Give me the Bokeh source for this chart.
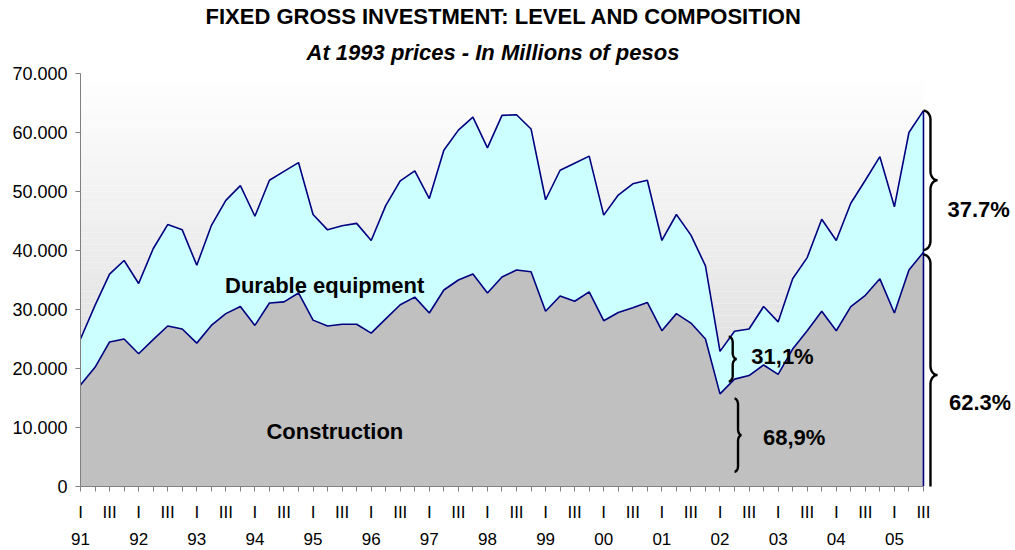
import numpy as np
from bokeh.plotting import figure
from bokeh.models import Range1d, FixedTicker, LinearAxis, Title
from bokeh.core.properties import value
from bokeh.embed import file_html
from bokeh.resources import INLINE

# ---------------- data ----------------
years = ["91", "92", "93", "94", "95", "96", "97", "98", "99", "00", "01", "02", "03", "04", "05"]
quarter_labels = ["I", "", "III", ""]
n_quarters = 59  # 1991 I ... 2005 III

construction = [17200, 20200, 24500, 25000, 22500, 24900, 27200, 26700, 24300, 27300,
                29300, 30500, 27300, 31100, 31300, 32800, 28200, 27200, 27500, 27500,
                26000, 28400, 30800, 32100, 29400, 33300, 35000, 36000, 32800, 35500,
                36700, 36400, 29700, 32300, 31400, 33000, 28100, 29500, 30300, 31200,
                26400, 29300, 27700, 25000, 15700, 18200, 18800, 20600, 19000, 23300,
                26400, 29700, 26400, 30500, 32400, 35200, 29400, 36700, 39700]
durable = [7800, 10500, 11500, 13300, 11900, 15400, 17200, 16800, 13200, 16900,
           19200, 20500, 18500, 20800, 22100, 22100, 17900, 16300, 16700, 17100,
           15700, 19200, 21000, 21400, 19400, 23700, 25400, 26600, 24600, 27400,
           26300, 24200, 18900, 21300, 23400, 23000, 17900, 19900, 21000, 20700,
           15300, 16800, 14900, 12400, 7200, 8100, 7900, 9900, 8900, 11900,
           12400, 15600, 15300, 17500, 19500, 20700, 18000, 23300, 24000]

share_labels = ["37.7%", "62.3%", "31,1%", "68,9%"]
y_ticks = [0, 10000, 20000, 30000, 40000, 50000, 60000, 70000]

# ---------------- derived ----------------
x = np.arange(n_quarters)
constr = np.array(construction, dtype=float)
total = constr + np.array(durable, dtype=float)

FONT = value("Liberation Sans")
PX_X = 14.534          # pixels per quarter (styling helper for braces)
PX_Y = 59.0 / 10000.0  # pixels per peso unit

p = figure(width=1012, height=548, output_backend="svg", toolbar_location=None,
           x_range=Range1d(0, 930 / PX_X), y_range=Range1d(0, 70000),
           min_border_left=80, min_border_right=2, min_border_top=73, min_border_bottom=62,
           background_fill_color="white", border_fill_color="white")
p.outline_line_color = None
p.grid.visible = False

# gradient background of the plot area
nb = 70
edges = np.linspace(0, 70000, nb + 1)
shade = []
for k in range(nb):
    f = (k + 0.5) / nb
    c = int(round(211 + (255 - 211) * f))
    shade.append("#%02x%02x%02x" % (c, c, c))
p.quad(left=0, right=n_quarters - 1, bottom=edges[:-1], top=edges[1:],
       fill_color=shade, line_color=None)

# stacked areas
p.varea(x=x, y1=0, y2=constr, fill_color="#c0c0c0")
p.varea(x=x, y1=constr, y2=total, fill_color="#ccffff")
p.line(x, constr, line_color="#000080", line_width=1.6)
p.line(x, total, line_color="#000080", line_width=1.6)
p.segment(x0=[x[-1]], y0=[0], x1=[x[-1]], y1=[total[-1]], line_color="#000080", line_width=1.6)


def brace(xc, y0, y1, a_px, r_px, n=14):
    ax = a_px / PX_X
    ry = r_px / PX_Y
    ym = (y0 + y1) / 2.0
    t = np.linspace(0, np.pi / 2, n)
    s1x = xc + ax * np.sin(t)
    s1y = y1 - ry * (1 - np.cos(t))
    s2x = xc + ax + ax * (1 - np.cos(t))
    s2y = ym + ry * (1 - np.sin(t))
    xt = np.concatenate([s1x, s2x])
    yt = np.concatenate([s1y, s2y])
    xs = np.concatenate([xt, xt[::-1]])
    ys = np.concatenate([yt, 2 * ym - yt[::-1]])
    return xs, ys


last = n_quarters - 1
braces = [
    brace(last, constr[-1] + 400, total[-1], 7, 9),
    brace(last, -1500, constr[-1] - 400, 7, 9),
    brace(44.6, constr[45] - 400, total[45] - 900, 4, 6),
    brace(45.0, 2500, 14900, 3.5, 6),
]
for bx, by in braces:
    p.line(bx, by, line_color="black", line_width=2.4)

# texts
p.text(x=[16.8, 17.5], y=[34100, 9300], text=["Durable equipment", "Construction"],
       text_font=FONT, text_font_style="bold", text_font_size="22px",
       text_align="center", text_baseline="middle", text_color="black")
p.text(x=[61.8, 61.9, 48.3, 49.1], y=[46900, 14200, 22000, 8300], text=share_labels,
       text_font=FONT, text_font_style="bold", text_font_size="22px",
       text_align="center", text_baseline="middle", text_color="black")

# y axis
p.yaxis.ticker = FixedTicker(ticks=y_ticks)
p.yaxis.major_label_overrides = {t: f"{t:,}".replace(",", ".") for t in y_ticks}
p.yaxis.minor_tick_line_color = None
p.yaxis.major_tick_in = 0
p.yaxis.major_tick_out = 5
p.yaxis.axis_line_color = "#808080"
p.yaxis.major_tick_line_color = "#808080"
p.yaxis.major_label_text_font = "Liberation Sans"
p.yaxis.major_label_text_font_size = "18px"
p.yaxis.major_label_text_color = "black"
p.yaxis.major_label_standoff = 8

# x axis: quarters
qticks = list(range(n_quarters))
xa = p.xaxis[0]
xa.ticker = FixedTicker(ticks=qticks)
xa.major_label_overrides = {i: quarter_labels[i % 4] for i in qticks}
xa.bounds = (0, last)
xa.minor_tick_line_color = None
xa.major_tick_in = 0
xa.major_tick_out = 5
xa.axis_line_color = "#808080"
xa.major_tick_line_color = "#808080"
xa.major_label_text_font = "Liberation Sans"
xa.major_label_text_font_size = "17px"
xa.major_label_text_color = "black"
xa.major_label_standoff = 11

# x axis: years
yticks_x = list(range(0, n_quarters, 4))
ya = LinearAxis(ticker=FixedTicker(ticks=yticks_x),
                major_label_overrides={t: years[t // 4] for t in yticks_x})
ya.axis_line_color = None
ya.major_tick_line_color = None
ya.minor_tick_line_color = None
ya.major_label_text_font = "Liberation Sans"
ya.major_label_text_font_size = "17px"
ya.major_label_text_color = "black"
ya.major_label_standoff = 2
p.add_layout(ya, "below")

# titles
p.add_layout(Title(text="At 1993 prices - In Millions of pesos", align="left", offset=226,
                   text_font="Liberation Sans", text_font_size="22px", text_color="black",
                   text_font_style="bold italic", standoff=18), "above")
p.add_layout(Title(text="FIXED GROSS INVESTMENT: LEVEL AND COMPOSITION", align="left", offset=125,
                   text_font="Liberation Sans", text_font_size="22px", text_color="black",
                   text_font_style="bold", standoff=0), "above")

open("out.html", "w").write(file_html(p, INLINE))
